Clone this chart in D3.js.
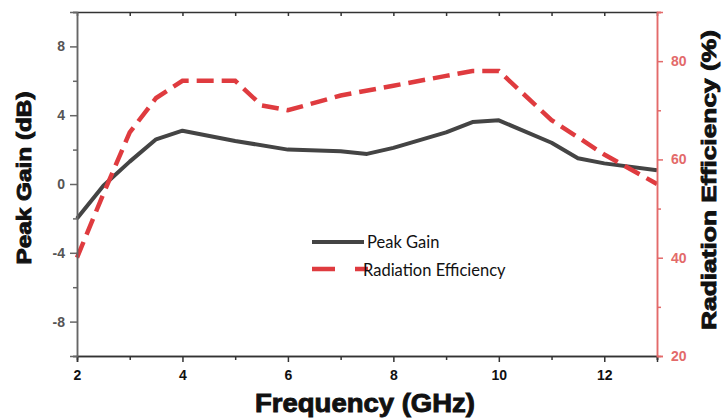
<!DOCTYPE html>
<html>
<head>
<meta charset="utf-8">
<script src="https://cdn.jsdelivr.net/npm/d3@7"></script>
<style>
body { margin: 0; background: #fff; }
svg { display: block; font-family: "Liberation Sans", Arial, sans-serif; }
</style>
</head>
<body>
<div id="chart"></div>
<script>
//Width and height
var w = 723;
var h = 419;

//Dataset
var freq = [2, 2.5, 3, 3.5, 4, 5, 6, 7, 7.5, 8, 9, 9.5, 10, 11, 11.5, 12, 13];
var peakGain = [-2, -0.1, 1.3, 2.6, 3.1, 2.5, 2.0, 1.9, 1.75, 2.1, 3.0, 3.6, 3.7, 2.4, 1.5, 1.2, 0.8];

var effFreq = [2, 2.5, 3, 3.5, 4, 5, 5.5, 6, 7, 8, 9, 9.5, 10, 11, 12, 13];
var radEff = [40, 53, 65.5, 72.5, 76, 76, 71, 70, 73, 75, 77, 78, 78, 68, 61, 55];

var xTicks = [2, 4, 6, 8, 10, 12];
var xMinor = [3, 5, 7, 9, 11, 13];
var gainTicks = [-8, -4, 0, 4, 8];
var gainMinor = [-10, -6, -2, 2, 6, 10];
var effTicks = [20, 40, 60, 80];
var effMinor = [30, 50, 70, 90];

var legendNames = ["Peak Gain", "Radiation Efficiency"];

var grey = "#444";
var red = "#df3b3f";
var redAxis = "#e36a6a";

//Scales
var xScale = d3.scaleLinear().domain([2, 13]).range([77, 657]);
var yScale = d3.scaleLinear().domain([-10, 10]).range([356, 12]);
var y2Scale = d3.scaleLinear().domain([20, 90]).range([356, 12]);

var svg = d3.select("#chart")
.append("svg")
.attr("width", w)
.attr("height", h);

//Lines
var gainLine = d3.line()
.x(function(d, i) { return xScale(freq[i]); })
.y(function(d) { return yScale(d); });

var effLine = d3.line()
.x(function(d, i) { return xScale(effFreq[i]); })
.y(function(d) { return y2Scale(d); });

svg.append("path")
.datum(peakGain)
.attr("d", gainLine)
.attr("fill", "none")
.attr("stroke", grey)
.attr("stroke-width", 4)
.attr("stroke-linejoin", "round");

svg.append("path")
.datum(radEff)
.attr("d", effLine)
.attr("fill", "none")
.attr("stroke", red)
.attr("stroke-width", 4.5)
.attr("stroke-dasharray", "17,8");

//Axes - minor ticks first
function styleAxis(g, col, labCol, size) {
	g.select(".domain").attr("stroke", col).attr("stroke-width", 1.5);
	g.selectAll(".tick line").attr("stroke", col).attr("stroke-width", 1.5);
	g.selectAll(".tick text")
	.attr("fill", labCol)
	.attr("font-size", size)
	.attr("font-weight", "bold");
}

var plainFmt = function(d) { return String(d); };

//bottom
svg.append("g")
.attr("transform", "translate(0,356)")
.call(d3.axisBottom(xScale).tickValues(xMinor).tickSize(4).tickFormat(""))
.call(styleAxis, "#333", "#111", 14);

svg.append("g")
.attr("transform", "translate(0,356)")
.call(d3.axisBottom(xScale).tickValues(xTicks).tickSize(6).tickPadding(8).tickFormat(plainFmt))
.call(styleAxis, "#333", "#111", 14);

//top
svg.append("g")
.attr("transform", "translate(0,12)")
.call(d3.axisBottom(xScale).tickValues(xTicks.concat(xMinor)).tickSize(4).tickSizeOuter(0).tickFormat(""))
.call(styleAxis, "#333", "#111", 14);

//left
svg.append("g")
.attr("transform", "translate(77,0)")
.call(d3.axisLeft(yScale).tickValues(gainMinor).tickSize(4).tickFormat(""))
.call(styleAxis, "#666", "#555", 14);

svg.append("g")
.attr("transform", "translate(77,0)")
.call(d3.axisLeft(yScale).tickValues(gainTicks).tickSize(7).tickPadding(5).tickFormat(plainFmt))
.call(styleAxis, "#666", "#555", 14);

//right
svg.append("g")
.attr("transform", "translate(657,0)")
.call(d3.axisRight(y2Scale).tickValues(effMinor).tickSize(4).tickFormat(""))
.call(styleAxis, redAxis, redAxis, 14);

svg.append("g")
.attr("transform", "translate(657,0)")
.call(d3.axisRight(y2Scale).tickValues(effTicks).tickSize(6).tickPadding(8).tickFormat(plainFmt))
.call(styleAxis, redAxis, redAxis, 14);

//Axis titles (heavy, stretched to look like the original black face)
function heavyTitle(sel, size, len) {
	sel.attr("text-anchor", "middle")
	.attr("font-size", size)
	.attr("font-weight", "bold")
	.attr("fill", "#111")
	.attr("stroke", "#111")
	.attr("stroke-width", 0.9)
	.attr("textLength", len)
	.attr("lengthAdjust", "spacingAndGlyphs");
}

svg.append("text")
.attr("x", 365)
.attr("y", 412)
.call(heavyTitle, 25, 220)
.text("Frequency (GHz)");

svg.append("text")
.attr("transform", "translate(31,178) rotate(-90)")
.call(heavyTitle, 20.5, 173)
.text("Peak Gain (dB)");

svg.append("text")
.attr("transform", "translate(716,180) rotate(-90)")
.call(heavyTitle, 20.5, 300)
.text("Radiation Efficiency (%)");

//Legend
var legend = svg.append("g").attr("font-family", "Lato, 'Open Sans', sans-serif");

legend.append("line")
.attr("x1", 312).attr("x2", 364)
.attr("y1", 242).attr("y2", 242)
.attr("stroke", grey)
.attr("stroke-width", 4);

legend.append("line")
.attr("x1", 312).attr("x2", 368)
.attr("y1", 269).attr("y2", 269)
.attr("stroke", red)
.attr("stroke-width", 4.5)
.attr("stroke-dasharray", "23,20");

legend.selectAll("text.leg")
.data(legendNames)
.enter()
.append("text")
.attr("class", "leg")
.attr("x", function(d, i) { return i == 0 ? 367 : 363; })
.attr("y", function(d, i) { return 248 + i * 28; })
.attr("font-size", 16.5)
.attr("fill", "#111")
.text(function(d) { return d; });
</script>
</body>
</html>
